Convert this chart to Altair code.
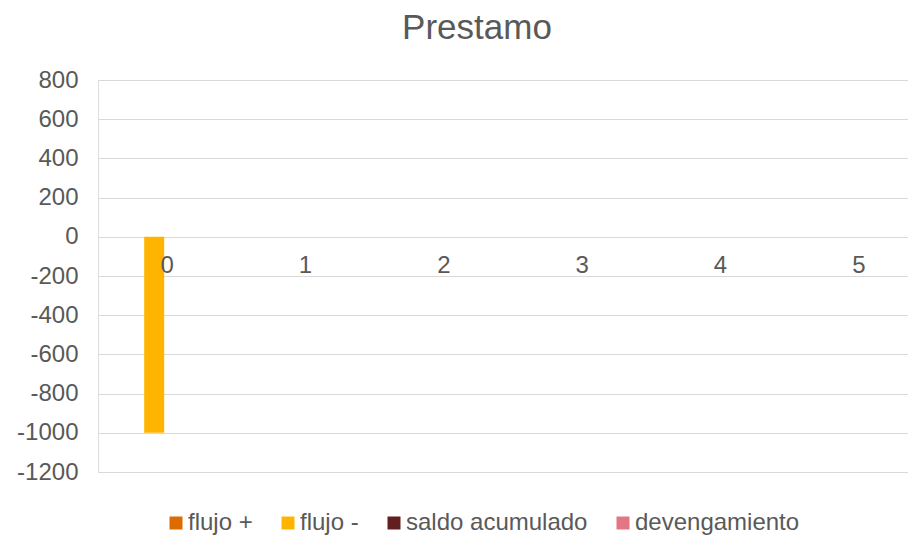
import altair as alt
import pandas as pd

categories = ["0", "1", "2", "3", "4", "5"]
series = ["flujo +", "flujo -", "saldo acumulado", "devengamiento"]
flujo_pos = [0, 0, 0, 0, 0, 0]
flujo_neg = [-1000, 0, 0, 0, 0, 0]
saldo_acumulado = [0, 0, 0, 0, 0, 0]
devengamiento = [0, 0, 0, 0, 0, 0]
colors = ["#DD6B00", "#FFB400", "#621F1F", "#E27685"]
y_ticks = [-1200, -1000, -800, -600, -400, -200, 0, 200, 400, 600, 800]

rows = []
for name, vals in zip(series, [flujo_pos, flujo_neg, saldo_acumulado, devengamiento]):
    for c, v in zip(categories, vals):
        rows.append({"periodo": c, "serie": name, "valor": v})
df = pd.DataFrame(rows)

TXT = "#595959"
FONT = "Liberation Sans"
H = 392
zero_offset = -(H - H * 800 / 2000)

chart = alt.Chart(df).mark_bar().encode(
    x=alt.X(
        "periodo:N",
        sort=categories,
        scale=alt.Scale(range=[0, 830], paddingInner=0.422, paddingOuter=0.211),
        axis=alt.Axis(
            title=None, orient="bottom", offset=zero_offset, ticks=False, domain=False,
            labelAngle=0, labelFontSize=24, labelColor=TXT, labelPadding=17,
            labelFont=FONT, zindex=1, grid=False,
        ),
    ),
    xOffset=alt.XOffset(
        "serie:N", sort=series,
        scale=alt.Scale(range=[-3, 77], paddingInner=0, paddingOuter=0),
    ),
    y=alt.Y(
        "valor:Q",
        scale=alt.Scale(domain=[-1200, 800], nice=False, zero=False),
        axis=alt.Axis(
            title=None, values=y_ticks, ticks=False, domain=False,
            labelExpr="datum.value < 0 ? '-' + abs(datum.value) : '' + datum.value",
            labelFontSize=24, labelColor=TXT, labelPadding=20, labelFont=FONT,
            grid=True, gridColor="#D9D9D9", gridWidth=1,
        ),
    ),
    color=alt.Color(
        "serie:N", sort=series,
        scale=alt.Scale(domain=series, range=colors),
        legend=alt.Legend(
            title=None, orient="none", direction="horizontal",
            legendX=66, legendY=431, symbolType="square", symbolSize=169,
            symbolStrokeWidth=0, labelFontSize=24, labelColor=TXT, labelFont=FONT,
            labelOffset=0, columnPadding=23, padding=0, labelLimit=400,
        ),
    ),
).properties(
    width=810,
    height=H,
    title=alt.TitleParams(
        "Prestamo", fontSize=35, font=FONT, color=TXT, fontWeight="normal",
        anchor="middle", frame="group", dx=-26, dy=-18,
    ),
    autosize=alt.AutoSizeParams(type="none"),
    padding={"left": 90, "top": 72, "right": 0, "bottom": 64},
).configure_view(stroke=None).configure(background="white")

chart.save("out.html", embed_options={"renderer": "svg", "actions": False})
